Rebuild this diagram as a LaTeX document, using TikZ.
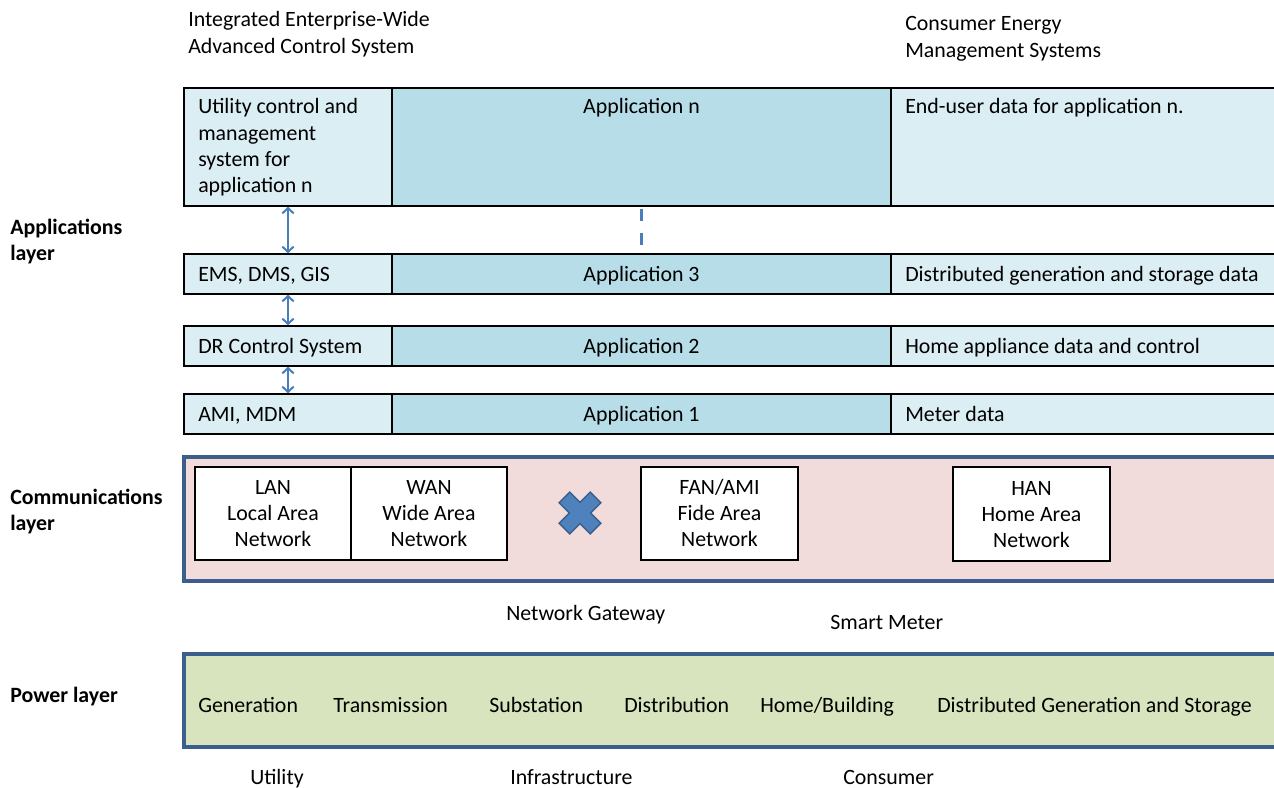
\documentclass[tikz,border=0pt]{standalone}
\usepackage{fontspec}
\setmainfont{Carlito}
\usetikzlibrary{fit,arrows.meta}
\definecolor{aqualight}{HTML}{DBEEF4}
\definecolor{aquamid}{HTML}{B7DEE8}
\definecolor{commfill}{HTML}{F2DCDB}
\definecolor{powerfill}{HTML}{D7E4BD}
\definecolor{bandline}{HTML}{3B5F8D}
\definecolor{linkblue}{HTML}{4A7EBB}
\definecolor{crossfill}{HTML}{4F81BD}
% stacked lines whose baseline is the first line
\newcommand\linesL[1]{\vtop{\halign{##\hfil\cr#1\crcr}}}
\newcommand\linesC[1]{\vtop{\halign{\hfil##\hfil\cr#1\crcr}}}

\begin{document}
\begin{tikzpicture}[x=0.75pt,y=-0.75pt,
  every node/.style={font=\fontsize{16.4pt}{19.7pt}\selectfont, inner sep=0pt},
  cell/.style={draw=black, line width=1.1pt, inner sep=0pt},
  sidecell/.style={cell, fill=aqualight},
  appcell/.style={cell, fill=aquamid},
  netbox/.style={draw=black, line width=1.1pt, fill=white, inner sep=0pt},
  band/.style={draw=bandline, line width=2.3pt, inner sep=0pt},
  txt/.style={anchor=base west},
  ctxt/.style={anchor=base},
  layerlabel/.style={anchor=base west, font=\fontsize{16.4pt}{19.7pt}\selectfont\bfseries},
  link/.style={draw=linkblue, line width=1.5pt,
    {Straight Barb[length=4pt,width=8.5pt]}-{Straight Barb[length=4pt,width=8.5pt]}},
]
\useasboundingbox (0,0) rectangle (1274,788);
\clip (0,0) rectangle (1274,788);

% system titles
\node[txt] (t-intg) at (188,27) {\linesL{Integrated Enterprise-Wide\cr Advanced Control System}};
\node[txt] (t-cems) at (905,31) {\linesL{Consumer Energy\cr Management Systems}};

% applications layer rows
\node[sidecell, fit={(184,88)(392,206)}] (rn-l) {};
\node[appcell,  fit={(392,88)(891,206)}] (rn-m) {};
\node[sidecell, fit={(891,88)(1290,206)}] (rn-r) {};

\node[sidecell, fit={(184,254)(392,294)}] (r3-l) {};
\node[appcell,  fit={(392,254)(891,294)}] (r3-m) {};
\node[sidecell, fit={(891,254)(1290,294)}] (r3-r) {};

\node[sidecell, fit={(184,326)(392,366)}] (r2-l) {};
\node[appcell,  fit={(392,326)(891,366)}] (r2-m) {};
\node[sidecell, fit={(891,326)(1290,366)}] (r2-r) {};

\node[sidecell, fit={(184,394)(392,434)}] (r1-l) {};
\node[appcell,  fit={(392,394)(891,434)}] (r1-m) {};
\node[sidecell, fit={(891,394)(1290,434)}] (r1-r) {};

\node[txt]  (t-rnl) at (198,114) {\linesL{Utility control and\cr management\cr system for\cr application n}};
\node[ctxt] (t-rnm) at (641.5,114) {Application n};
\node[txt]  (t-rnr) at (905,114) {End-user data for application n.};

\node[txt]  (t-r3l) at (198,281) {EMS, DMS, GIS};
\node[ctxt] (t-r3m) at (641.5,281) {Application 3};
\node[txt]  (t-r3r) at (905,281) {Distributed generation and storage data};

\node[txt]  (t-r2l) at (198,353) {DR Control System};
\node[ctxt] (t-r2m) at (641.5,353) {Application 2};
\node[txt]  (t-r2r) at (905,353) {Home appliance data and control};

\node[txt]  (t-r1l) at (198,421) {AMI, MDM};
\node[ctxt] (t-r1m) at (641.5,421) {Application 1};
\node[txt]  (t-r1r) at (905,421) {Meter data};

% links between the utility systems
\draw[link] (rn-l.south) -- (r3-l.north);
\draw[link] (r3-l.south) -- (r2-l.north);
\draw[link] (r2-l.south) -- (r1-l.north);

% further applications
\coordinate (dash-end) at (641.5,245);
\draw[draw=linkblue, line width=2.3pt, dash pattern=on 9pt off 9pt, shorten <=1.5pt]
  (rn-m.south) -- (dash-end);

% communications layer
\node[band, fill=commfill, fit={(184,457)(1300,581)}] (comm) {};
\node[netbox, fit={(195,467)(351,560)}] (lan) {};
\node[netbox, fit={(351,467)(507,560)}] (wan) {};
\node[netbox, fit={(641,467)(798,560)}] (fan) {};
\node[netbox, fit={(953,467)(1110,561)}] (han) {};
\node[ctxt] (t-lan) at (273,494) {\linesC{LAN\cr Local Area\cr Network}};
\node[ctxt] (t-wan) at (429,494) {\linesC{WAN\cr Wide Area\cr Network}};
\node[ctxt] (t-fan) at (719.5,494) {\linesC{FAN/AMI\cr Fide Area\cr Network}};
\node[ctxt] (t-han) at (1031.5,495) {\linesC{HAN\cr Home Area\cr Network}};

% broken link between WAN and FAN
\filldraw[fill=crossfill, draw=bandline, line width=1pt, shift={(580,513)}, rotate=45]
  (22,-7.5) -- (22,7.5) -- (7.5,7.5) -- (7.5,22) -- (-7.5,22) -- (-7.5,7.5)
  -- (-22,7.5) -- (-22,-7.5) -- (-7.5,-7.5) -- (-7.5,-22) -- (7.5,-22) -- (7.5,-7.5) -- cycle;

\node[txt] (t-gw) at (506,620) {Network Gateway};
\node[txt] (t-sm) at (830,629) {Smart Meter};

% power layer
\node[band, fill=powerfill, fit={(184,654)(1300,747)}] (power) {};
\node[txt] (p-gen)  at (198,712) {Generation};
\node[txt] (p-tra)  at (333,712) {Transmission};
\node[txt] (p-sub)  at (489,712) {Substation};
\node[txt] (p-dis)  at (624,712) {Distribution};
\node[txt] (p-home) at (760,712) {Home/Building};
\node[txt] (p-dgs)  at (937,712) {Distributed Generation and Storage};

\node[txt] (d-util)  at (250,784) {Utility};
\node[txt] (d-infra) at (510,784) {Infrastructure};
\node[txt] (d-cons)  at (843,784) {Consumer};

% layer names
\node[layerlabel] (l-app)  at (10,234) {\linesL{Applications\cr layer}};
\node[layerlabel] (l-comm) at (10,504) {\linesL{Communications\cr layer}};
\node[layerlabel] (l-pow)  at (10,702) {Power layer};
\end{tikzpicture}
\end{document}
